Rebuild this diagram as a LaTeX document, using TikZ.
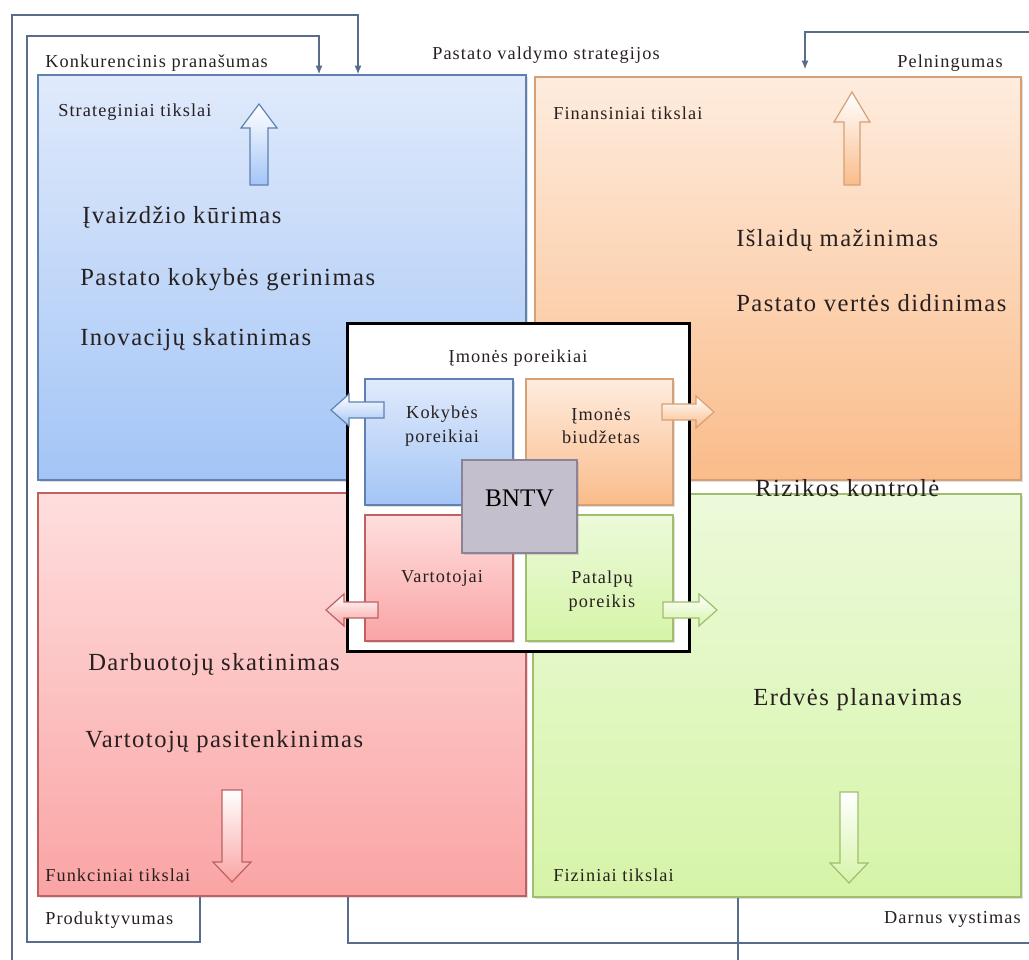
\documentclass[tikz,border=0pt]{standalone}
\usepackage{fontspec}
\setmainfont{Liberation Serif}
\newfontfamily\spacedserif[LetterSpace=6]{Liberation Serif}
\usetikzlibrary{
  arrows.meta,
  fit,
  shadows
}
\definecolor{stratTop}{RGB}{224,234,251}
\definecolor{stratBot}{RGB}{163,197,246}
\definecolor{stratLine}{RGB}{96,128,178}
\definecolor{finTop}{RGB}{254,236,222}
\definecolor{finBot}{RGB}{250,188,138}
\definecolor{finLine}{RGB}{214,160,118}
\definecolor{funkTop}{RGB}{255,222,222}
\definecolor{funkBot}{RGB}{250,164,164}
\definecolor{funkLine}{RGB}{192,96,96}
\definecolor{fizTop}{RGB}{236,250,218}
\definecolor{fizBot}{RGB}{214,244,168}
\definecolor{fizLine}{RGB}{160,190,110}
\definecolor{bntvFill}{RGB}{196,191,204}
\definecolor{bntvLine}{RGB}{138,132,150}
\definecolor{linkCol}{RGB}{88,108,140}
\definecolor{txt}{RGB}{40,32,32}
\tikzset{
  quad/.style={
    draw=#1Line, top color=#1Top, bottom color=#1Bot,
    line width=0.3mm, inner sep=0pt,
    drop shadow={opacity=0.25, shadow xshift=0.6mm, shadow yshift=-0.6mm}
  },
  hub/.style={draw=black, line width=0.75mm, fill=white, inner sep=0pt},
  core/.style={
    draw=bntvLine, fill=bntvFill, line width=0.3mm, inner sep=0pt,
    font=\fontsize{18}{20}\selectfont,
    drop shadow={opacity=0.25, shadow xshift=0.6mm, shadow yshift=-0.6mm}
  },
  barrow/.style={draw=#1Line, top color=white, bottom color=#1Bot, line width=0.3mm},
  link/.style={draw=linkCol, line width=0.4mm},
  tip/.style={-{Latex[length=2.2mm, width=1.8mm]}},
  lbl/.style={font=\spacedserif\fontsize{13}{15}\selectfont, text=txt, inner sep=0pt},
  goal/.style={font=\spacedserif\fontsize{17.5}{20}\selectfont, text=txt, inner sep=0pt},
  need/.style={align=center, font=\spacedserif\fontsize{13}{17}\selectfont, text=txt, inner sep=0pt},
}

\begin{document}
\begin{tikzpicture}[x=0.25mm, y=-0.25mm]
\useasboundingbox (0,0) rectangle (1029,960);

% --- four goal quadrants ---
\node[quad=strat, fit={(38,75) (526,480)}] (strat) {};
\node[quad=fin, fit={(535,77) (1021,480)}] (fin) {};
\node[quad=funk, fit={(38,493) (526,896)}] (funk) {};
\node[quad=fiz, fit={(533,494) (1021,897)}] (fiz) {};

% --- feedback lines ---
\coordinate (outerFoot) at (12,960);
\coordinate (outerTurn) at (358,15);
\draw[link, tip] (outerFoot) |- (outerTurn) -- (outerTurn |- strat.north);
\coordinate (innerTurn) at (319,36);
\coordinate (innerFoot) at (27,942);
\coordinate (prodTurn) at (200,942);
\draw[link, tip] (prodTurn |- funk.south) -- (prodTurn) -- (innerFoot) |- (innerTurn) -- (innerTurn |- strat.north);
\coordinate (pelnTurn) at (805,32);
\coordinate (pelnEnd) at (1029,32);
\draw[link, tip, shorten >=1.75mm] (pelnEnd) -- (pelnTurn) -- (pelnTurn |- fin.north);
\coordinate (darnTurn) at (348,943);
\coordinate (darnEnd) at (1029,943);
\draw[link] (darnTurn |- funk.south) -- (darnTurn) -- (darnEnd);
\coordinate (fizFoot) at (738,960);
\draw[link] (fizFoot |- fiz.south) -- (fizFoot);

% --- outside labels ---
\node[lbl, anchor=west] (konk) at (45,63) {Konkurencinis pranašumas};
\node[lbl, anchor=west] (valdym) at (432,55) {Pastato valdymo strategijos};
\node[lbl, anchor=east] (peln) at (1003,63) {Pelningumas};
\node[lbl, anchor=west] (prod) at (45,920) {Produktyvumas};
\node[lbl, anchor=east] (darn) at (1021,919) {Darnus vystimas};

% --- quadrant titles ---
\node[lbl, anchor=west] (stratT) at (58,112) {Strateginiai tikslai};
\node[lbl, anchor=west] (finT) at (553,113) {Finansiniai tikslai};
\node[lbl, anchor=west] (funkT) at (45,875) {Funkciniai tikslai};
\node[lbl, anchor=west] (fizT) at (553,875) {Fiziniai tikslai};

% --- goals ---
\node[goal, anchor=west] (ivaiz) at (82,217) {Įvaizdžio kūrimas};
\node[goal, anchor=west] (kokyb) at (80,280) {Pastato kokybės gerinimas};
\node[goal, anchor=west] (inov) at (80,340) {Inovacijų skatinimas};
\node[goal, anchor=west] (islaid) at (736,240) {Išlaidų mažinimas};
\node[goal, anchor=west] (vert) at (736,303) {Pastato vertės didinimas};
\node[goal, anchor=west] (rizik) at (755,488) {Rizikos kontrolė};
\node[goal, anchor=west] (erdv) at (753,700) {Erdvės planavimas};
\node[goal, anchor=west] (darb) at (88,665) {Darbuotojų skatinimas};
\node[goal, anchor=west] (vartP) at (85,742) {Vartotojų pasitenkinimas};

% --- big block arrows ---
\draw[barrow=strat] (250,185) -- (250,128) -- (241,128) -- (259,104) -- (277,128) -- (268,128) -- (268,185) -- cycle;
\draw[barrow=fin] (844,185) -- (844,122) -- (834,122) -- (852,92) -- (870,122) -- (860,122) -- (860,185) -- cycle;
\draw[barrow=funk] (222,790) -- (222,862) -- (213,862) -- (232,882) -- (251,862) -- (242,862) -- (242,790) -- cycle;
\draw[barrow=fiz] (840,792) -- (840,863) -- (830,863) -- (849,883) -- (868,863) -- (858,863) -- (858,792) -- cycle;

% --- company needs ---
\node[hub, fit={(347,323) (689,651)}] (poreik) {};
\node[lbl] (poreikT) at (518,358) {Įmonės poreikiai};
\node[quad=strat, fit={(365,379) (513,505)}] (kokN) {};
\node[quad=fin, fit={(526,379) (673,505)}] (biudN) {};
\node[quad=funk, fit={(365,515) (513,641)}] (vartN) {};
\node[quad=fiz, fit={(526,515) (673,641)}] (patN) {};
\node[need] (kokT) at (442,426) {Kokybės\\poreikiai};
\node[need] (biudT) at (601,426) {Įmonės\\biudžetas};
\node[need] (vartT) at (442,578) {Vartotojai};
\node[need] (patT) at (602,591) {Patalpų\\poreikis};
\node[core, fit={(462,460) (577,553)}] (bntv) {BNTV};

% --- small side arrows ---
\draw[barrow=strat] (384,402) -- (349,402) -- (349,394) -- (331,410) -- (349,426) -- (349,418) -- (384,418) -- cycle;
\draw[barrow=fin] (662,404) -- (696,404) -- (696,396) -- (714,412) -- (696,428) -- (696,420) -- (662,420) -- cycle;
\draw[barrow=funk] (378,602) -- (344,602) -- (344,594) -- (326,610) -- (344,626) -- (344,618) -- (378,618) -- cycle;
\draw[barrow=fiz] (663,602) -- (699,602) -- (699,594) -- (717,610) -- (699,626) -- (699,618) -- (663,618) -- cycle;

\end{tikzpicture}
\end{document}
